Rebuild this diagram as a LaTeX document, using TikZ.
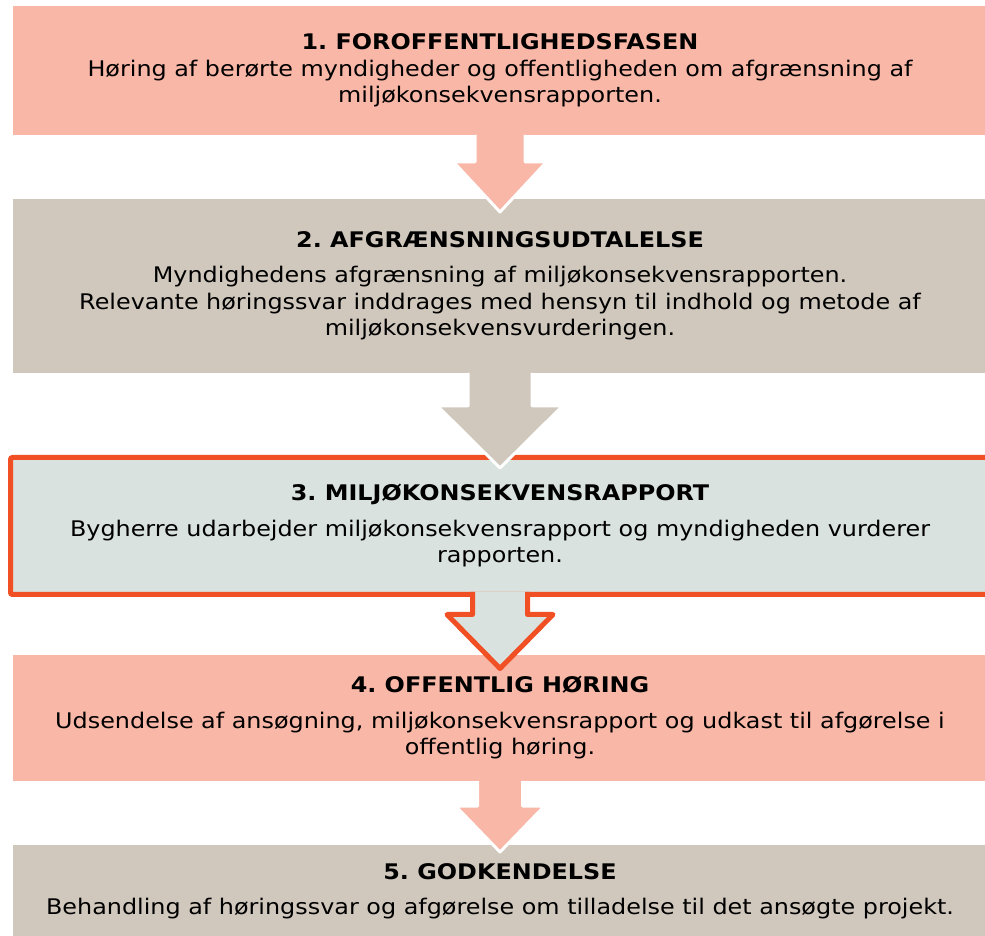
\documentclass[tikz,border=0pt]{standalone}
\usepackage{fontspec}
\setmainfont{DejaVu Sans}[FakeStretch=1.11]
\frenchspacing
\usetikzlibrary{calc}
\definecolor{salmon}{RGB}{249,183,167}
\definecolor{sand}{RGB}{208,200,189}
\definecolor{mist}{RGB}{217,226,222}
\definecolor{flame}{RGB}{240,80,36}
\begin{document}
\begin{tikzpicture}[x=1pt,y=1pt,
        phase/.style = {rectangle,inner sep=0pt,outer sep=0pt,align=center,
                        minimum width=974,font=\fontsize{21.5}{26.5}\selectfont},
        blockarrow/.style = {draw=white,line width=3pt,line join=round}]
    \useasboundingbox (0,0) rectangle (985,935);
    \clip (0,0) rectangle (985,935);

    \node[phase,fill=salmon,minimum height=129] (b1) at (500,864.5)
        {\textbf{1. FOROFFENTLIGHEDSFASEN}\\
         Høring af berørte myndigheder og offentligheden om afgrænsning af\\
         miljøkonsekvensrapporten.};
    \node[phase,fill=sand,minimum height=174] (b2) at (500,649)
        {\textbf{2. AFGRÆNSNINGSUDTALELSE}\\[9pt]
         Myndighedens afgrænsning af miljøkonsekvensrapporten.\\
         Relevante høringssvar inddrages med hensyn til indhold og metode af\\
         miljøkonsekvensvurderingen.};
    \node[phase,fill=mist,draw=flame,line width=5pt,rounded corners=2pt,
          minimum width=979,minimum height=137] (b3) at (500,409)
        {\textbf{3. MILJØKONSEKVENSRAPPORT}\\[9pt]
         Bygherre udarbejder miljøkonsekvensrapport og myndigheden vurderer\\
         rapporten.};
    \node[phase,fill=salmon,minimum height=126] (b4) at (500,217)
        {\textbf{4. OFFENTLIG HØRING}\\[9pt]
         Udsendelse af ansøgning, miljøkonsekvensrapport og udkast til afgørelse i\\
         offentlig høring.};
    \node[phase,fill=sand,minimum height=93] (b5) at (500,43.5)
        {\textbf{5. GODKENDELSE}\\[9pt]
         Behandling af høringssvar og afgørelse om tilladelse til det ansøgte projekt.};

    % block arrows between the phases
    \filldraw[blockarrow,fill=salmon]
        ($(b1.south)+(-25,0)$) -- ++(0,-27) -- ++(-21.5,0)
        -- ($(b2.north)+(0,-13)$)
        -- ($(b1.south)+(46.5,-27)$) -- ++(-21.5,0) -- ++(0,27);
    \filldraw[blockarrow,fill=sand]
        ($(b2.south)+(-32,0)$) -- ++(0,-33) -- ++(-30.5,0)
        -- ($(b3.north)+(0,-10.5)$)
        -- ($(b2.south)+(62.5,-33)$) -- ++(-30.5,0) -- ++(0,33);
    \filldraw[draw=flame,fill=mist,line width=5pt,line join=round]
        ($(b3.south)+(-27.5,2.5)$) -- ++(0,-22.5) -- ++(-25.5,0)
        -- ($(b4.north)+(0,-13.5)$)
        -- ($(b3.south)+(53,-20)$) -- ++(-25.5,0) -- ++(0,22.5);
    \filldraw[blockarrow,fill=salmon]
        ($(b4.south)+(-22.5,0)$) -- ++(0,-25) -- ++(-22,0)
        -- ($(b5.north)+(0,-7)$)
        -- ($(b4.south)+(44.5,-25)$) -- ++(-22,0) -- ++(0,25);
\end{tikzpicture}
\end{document}
